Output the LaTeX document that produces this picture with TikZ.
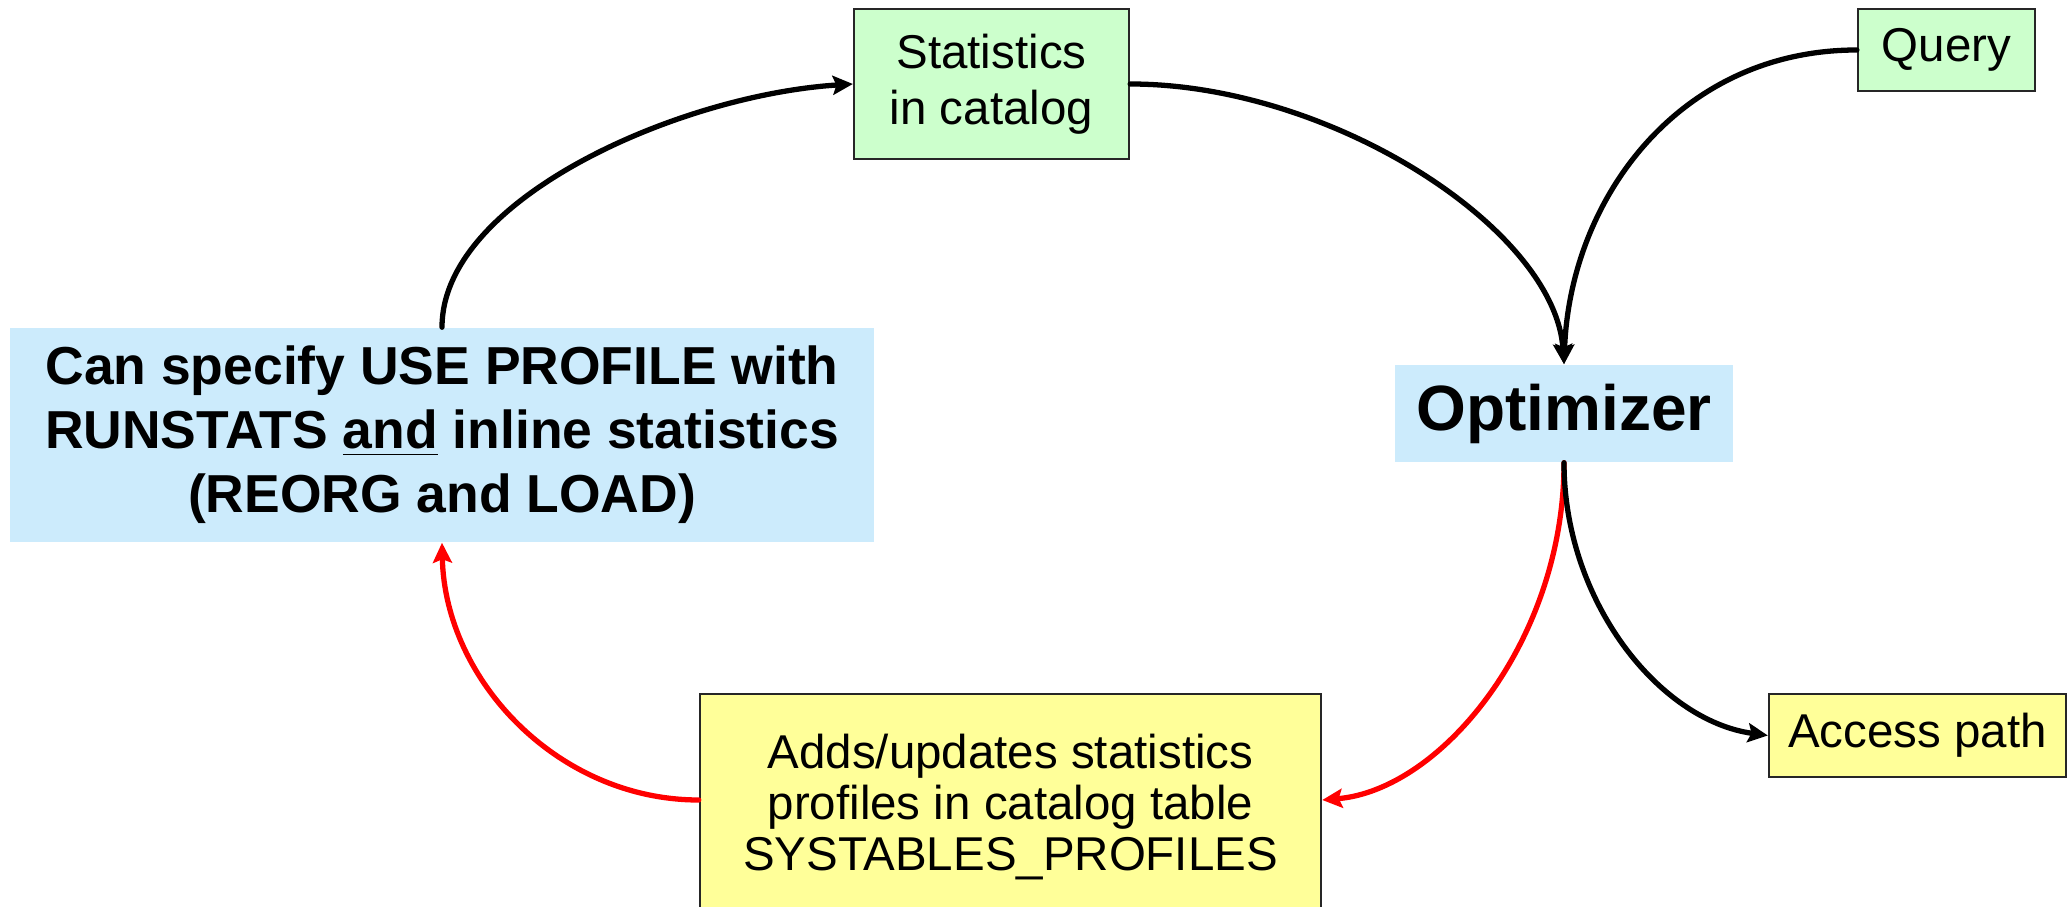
\documentclass[tikz,border=0pt]{standalone}
\usepackage{fontspec}
\setmainfont{Liberation Sans}
\usetikzlibrary{arrows.meta}
\definecolor{boxgreen}{RGB}{204,255,204}
\definecolor{boxblue}{RGB}{204,235,252}
\definecolor{boxyellow}{RGB}{255,255,153}
\definecolor{flowred}{RGB}{255,0,0}
\tikzset{
  framed/.style={draw=black!85, line width=0.6pt, inner sep=0pt, align=center,
    font=\fontsize{13.5}{15.2}\selectfont},
  bare/.style={draw=none, inner sep=0pt, align=center},
  flow/.style={line width=1.5pt, line cap=round,
    -{Stealth[length=0.2cm,width=0.19cm,inset=0.035cm]}},
  redflow/.style={flow, draw=flowred,
    -{Stealth[length=0.2cm,width=0.19cm,inset=0.035cm,fill=flowred]}},
}
\begin{document}
\begin{tikzpicture}[x=0.01cm,y=-0.01cm]
\useasboundingbox (0,0) rectangle (2070,907);

% boxes
\node[framed, fill=boxgreen, minimum width=2.75cm, minimum height=1.50cm,
  font=\fontsize{13.5}{15.8}\selectfont]
  (stats) at (991.5,84) {Statistics\\in catalog};
\node[framed, fill=boxgreen, minimum width=1.77cm, minimum height=0.82cm]
  (query) at (1946.5,50) {Query};
\node[bare, fill=boxblue, minimum width=3.38cm, minimum height=0.97cm,
  font=\fontsize{18.2}{20}\selectfont\bfseries]
  (opt) at (1564,413.5) {Optimizer};
\node[bare, fill=boxblue, minimum width=8.64cm, minimum height=2.14cm,
  font=\fontsize{15.2}{18.2}\selectfont\bfseries]
  (use) at (442,435) {Can specify USE PROFILE with\\RUNSTATS \underline{and} inline statistics\\(REORG and LOAD)};
\node[framed, fill=boxyellow, minimum width=6.21cm, minimum height=2.26cm,
  font=\fontsize{13.5}{14.6}\selectfont]
  (prof) at (1010.5,807) {Adds/updates statistics\\profiles in catalog table\\SYSTABLES\_PROFILES};
\node[framed, fill=boxyellow, minimum width=2.97cm, minimum height=0.83cm]
  (path) at (1917.5,735.5) {Access path};

% connectors
\draw[flow] (use.north) .. controls +(0,-128) and +(-174,11) .. (stats.west);
\draw[flow] (stats.east) .. controls +(201,0) and +(-9,-135) .. (opt.north);
\draw[flow] (query.west) .. controls +(-178,0) and +(6,-165) .. (opt.north);
\draw[redflow] (opt.south) .. controls +(0,178) and +(119,-10) .. ([yshift=0.07cm]prof.east);
\draw[flow] (opt.south) .. controls +(0,138) and +(-109,-15) .. (path.west);
\draw[redflow] ([yshift=0.07cm]prof.west) .. controls +(-140,0) and +(3,138) .. (use.south);
\end{tikzpicture}
\end{document}
